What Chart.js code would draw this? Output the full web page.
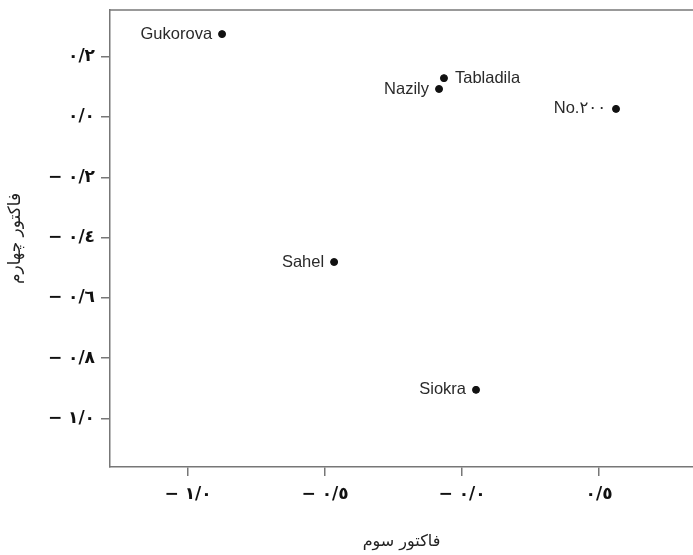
<!DOCTYPE html>
<html>
<head>
<meta charset="utf-8">
<script src="https://cdn.jsdelivr.net/npm/chart.js@4.4.1/dist/chart.umd.min.js"></script>
<style>
  html, body { margin: 0; padding: 0; background: #fff; }
  #wrap { width: 693px; height: 555px; }
</style>
</head>
<body>
<div id="wrap"><canvas id="chart"></canvas></div>
<script>
// cultivars and their factor scores
const names = ['Gukorova', 'Tabladila', 'Nazily', 'No.۲۰۰', 'Sahel', 'Siokra'];
const factor3 = [-0.876, -0.066, -0.084, 0.562, -0.467, 0.051];
const factor4 = [0.275, 0.129, 0.093, 0.027, -0.481, -0.905];
const labelSide = ['left', 'right', 'left', 'left', 'left', 'left'];

const xTickValues = [-1, -0.5, 0, 0.5];
const xTickLabels = ['− ۱/۰', '− ۰/٥', '− ۰/۰', '۰/٥'];
const yTickValues = [0.2, 0, -0.2, -0.4, -0.6, -0.8, -1];
const yTickLabels = ['۰/۲', '۰/۰', '− ۰/۲', '− ۰/٤', '− ۰/٦', '− ۰/۸', '− ۱/۰'];

const points = names.map((n, i) => ({ x: factor3[i], y: factor4[i] }));

const tickFont = { family: 'DejaVu Sans', size: 17, weight: 'bold' };

// point names next to the dots + top frame line
const extras = {
  id: 'extras',
  afterDatasetsDraw(chart) {
    const ctx = chart.ctx;
    const a = chart.chartArea;
    ctx.save();
    ctx.strokeStyle = '#777';
    ctx.lineWidth = 1.5;
    ctx.beginPath();
    ctx.moveTo(a.left, a.top);
    ctx.lineTo(a.right, a.top);
    ctx.stroke();

    ctx.font = '16.5px "Liberation Sans", Arial, "DejaVu Sans"';
    ctx.fillStyle = '#2a2a2a';
    ctx.textBaseline = 'middle';
    const meta = chart.getDatasetMeta(0);
    meta.data.forEach((pt, i) => {
      if (labelSide[i] === 'left') {
        ctx.textAlign = 'right';
        ctx.fillText(names[i], pt.x - 10, pt.y);
      } else {
        ctx.textAlign = 'left';
        ctx.fillText(names[i], pt.x + 11, pt.y);
      }
    });
    ctx.restore();
  }
};

new Chart(document.getElementById('chart'), {
  type: 'scatter',
  data: {
    datasets: [{
      data: points,
      backgroundColor: '#111',
      borderColor: '#111',
      pointRadius: 3.5,
      pointHoverRadius: 3.5
    }]
  },
  options: {
    responsive: true,
    maintainAspectRatio: false,
    animation: false,
    layout: { autoPadding: false, padding: { top: 10, right: 0, left: 0, bottom: 0 } },
    plugins: { legend: { display: false }, tooltip: { enabled: false } },
    scales: {
      x: {
        type: 'linear',
        min: -1.285,
        max: 0.843,
        afterFit(scale) {
          scale.height = 88;
          scale.paddingLeft = 0;
          scale.paddingRight = 0;
        },
        afterBuildTicks(scale) { scale.ticks = xTickValues.map(v => ({ value: v })); },
        grid: { display: true, drawOnChartArea: false, tickLength: 9, color: '#777', lineWidth: 1.5 },
        border: { display: true, color: '#777', width: 1.5 },
        ticks: {
          color: '#111',
          font: tickFont,
          padding: 8,
          maxRotation: 0,
          callback(v) { const k = xTickValues.indexOf(v); return k >= 0 ? xTickLabels[k] : ''; }
        },
        title: {
          display: true,
          text: 'فاکتور سوم',
          color: '#222',
          font: { family: 'DejaVu Sans', size: 16 },
          padding: { top: 14 }
        }
      },
      y: {
        type: 'linear',
        min: -1.161,
        max: 0.355,
        afterFit(scale) {
          scale.width = 110;
          scale.paddingTop = 0;
          scale.paddingBottom = 0;
        },
        afterBuildTicks(scale) { scale.ticks = yTickValues.map(v => ({ value: v })); },
        grid: { display: true, drawOnChartArea: false, tickLength: 9, color: '#777', lineWidth: 1.5 },
        border: { display: true, color: '#777', width: 1.5 },
        ticks: {
          color: '#111',
          font: tickFont,
          padding: 6,
          callback(v) { const k = yTickValues.indexOf(v); return k >= 0 ? yTickLabels[k] : ''; }
        },
        title: {
          display: true,
          text: 'فاکتور چهارم',
          color: '#222',
          font: { family: 'DejaVu Sans', size: 17 },
          padding: { top: 5, bottom: 0 }
        }
      }
    }
  },
  plugins: [extras]
});
</script>
</body>
</html>
